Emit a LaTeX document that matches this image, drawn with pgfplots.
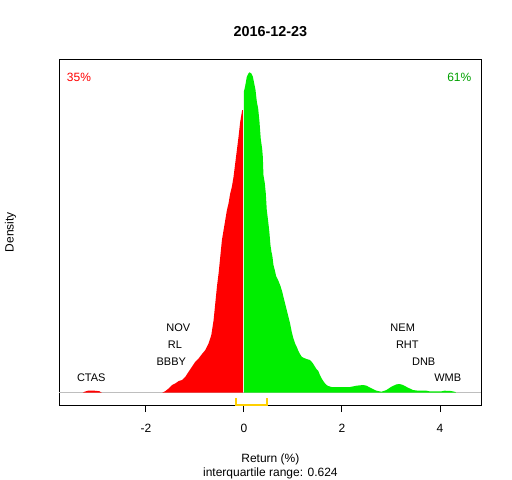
\documentclass[border=0pt]{standalone}
\usepackage{pgfplots}
\pgfplotsset{compat=1.18}
\usepackage{fontspec}
\setmainfont{Liberation Sans}
\definecolor{rgreen}{HTML}{00EE00}
\definecolor{rgreentext}{HTML}{00A000}
\definecolor{rgold}{HTML}{FFD000}
\definecolor{rgray}{HTML}{BEBEBE}
\begin{document}
\fontsize{12bp}{14bp}\selectfont
\begin{tikzpicture}
\begin{axis}[
  name=ax,
  scale only axis, width=421.8bp, height=345.5bp,
  xmin=-3.763, xmax=4.845, ymin=-12.3, ymax=333.2,
  axis line style={black, line width=0.8bp},
  xtick={-2,0,2,4}, xticklabels={-2,0,2,4},
  ytick=\empty,
  tick pos=left, tick align=outside, major tick length=7bp,
  tick style={black, line width=0.8bp},
  xticklabel style={font=\fontsize{12bp}{14bp}\selectfont, anchor=north, yshift=-7.7bp},
  clip=false,
]
\addplot[rgray, line width=0.8bp] coordinates {(-3.763,0) (4.845,0)};
% red part
\addplot[fill=red, draw=none] coordinates {
(-3.29,0) (-3.25,1) (-3.18,2) (-3.05,2) (-2.95,1.5) (-2.90,0)} \closedcycle;
\addplot[fill=red, draw=none] coordinates {
(-1.669,0) (-1.601,1.67) (-1.533,4.33) (-1.466,7.67) (-1.398,9.33) (-1.330,11.67)
(-1.262,12.67) (-1.194,16) (-1.127,21) (-1.059,26) (-0.991,31) (-0.923,34.33)
(-0.855,38.67) (-0.787,42.67) (-0.720,49.33) (-0.665,57.67) (-0.618,72.67)
(-0.584,89.33) (-0.550,106) (-0.516,119.33) (-0.482,136) (-0.448,152.67)
(-0.414,162.67) (-0.380,172.67) (-0.346,182.67) (-0.313,189.33) (-0.279,199.33)
(-0.245,206) (-0.211,216) (-0.177,229.33) (-0.143,242.67) (-0.109,256)
(-0.075,271) (-0.035,282.67) (-0.021,282.67)} \closedcycle;
% green part
\addplot[fill=rgreen, draw=none] coordinates {
(0.000,301) (0.026,306.67) (0.060,316) (0.094,319.33) (0.115,320.33) (0.149,319.33)
(0.183,316) (0.210,309.33) (0.237,302.67) (0.264,291) (0.291,284.33) (0.318,271)
(0.345,253.33) (0.372,244.33) (0.386,236) (0.399,217.67) (0.427,209.33)
(0.447,199.33) (0.467,182.67) (0.488,174.33) (0.508,166) (0.522,159.33)
(0.542,147.67) (0.562,141) (0.583,136) (0.603,127.67) (0.630,122.67)
(0.657,116.67) (0.698,112.67) (0.739,107.67) (0.779,101.67) (0.806,96)
(0.840,89.33) (0.874,82.67) (0.908,76) (0.942,69.33) (0.976,61) (1.010,54.33)
(1.044,49.33) (1.078,46) (1.112,41.67) (1.145,38.67) (1.179,36) (1.213,35)
(1.281,33.67) (1.349,32.67) (1.383,31) (1.417,28.67) (1.451,26) (1.485,23.33)
(1.519,21.67) (1.552,17.67) (1.586,14.33) (1.620,11.67) (1.654,9.33)
(1.688,7.67) (1.722,6.67) (1.790,5.67) (1.959,5.67) (2.163,5.67) (2.298,7)
(2.434,7.67) (2.502,7) (2.604,4.33) (2.705,2) (2.807,1) (2.909,2.67) (3.010,6)
(3.112,8.33) (3.180,8.67) (3.248,7.67) (3.350,5) (3.451,2.67) (3.553,2)
(3.723,2) (3.790,1.33) (4.028,1.33) (4.096,2) (4.231,1.67) (4.319,0.67) (4.326,0)} \closedcycle;
% interquartile bracket
\addplot[rgold, line width=2bp] coordinates {(-0.161,-5.6) (-0.161,-12.3) (0.465,-12.3) (0.465,-5.6)};
% labels
\node[anchor=base, text=red] at (axis cs:-3.365,311.1) {35\%};
\node[anchor=base, text=rgreentext] at (axis cs:4.396,311.1) {61\%};
\begin{scope}[every node/.style={anchor=base, font=\fontsize{11bp}{13bp}\selectfont}]
\node at (axis cs:-1.339,61.5) {NOV};
\node at (axis cs:-1.406,44.1) {RL};
\node at (axis cs:-1.482,27.5) {BBBY};
\node at (axis cs:-3.114,11.1) {CTAS};
\node at (axis cs:3.241,61.5) {NEM};
\node at (axis cs:3.335,44.1) {RHT};
\node at (axis cs:3.669,27.5) {DNB};
\node at (axis cs:4.159,11.1) {WMB};
\end{scope}
\end{axis}
\node[anchor=base, font=\fontsize{14.4bp}{16bp}\selectfont\bfseries] at ([yshift=23.1bp]ax.north) {2016-12-23};
\node[anchor=base] at ([yshift=-57.3bp]ax.south) {Return (\%)};
\node[anchor=base] at ([yshift=-71.3bp]ax.south) {interquartile range: 0.624};
\node[anchor=base, rotate=90] at ([xshift=-45.9bp]ax.west) {Density};
\pgfresetboundingbox
\path[use as bounding box] (-59.5bp,-75bp) rectangle (452.5bp,405bp);
\end{tikzpicture}
\end{document}
